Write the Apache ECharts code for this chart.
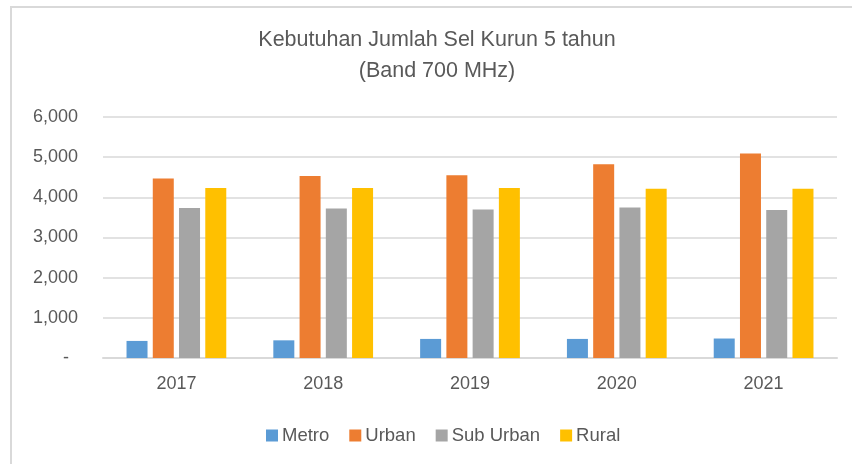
<!DOCTYPE html>
<html>
<head>
<meta charset="UTF-8">
<title>Kebutuhan Jumlah Sel</title>
<script src="https://cdn.jsdelivr.net/npm/echarts@6/dist/echarts.min.js"></script>
<style>
  html, body { margin: 0; padding: 0; background: #fff; overflow: hidden; }
  #chart { position: absolute; left: 0; top: 0; width: 852px; height: 464px; }
  .frame { position: absolute; left: 10px; top: 6px; width: 900px; height: 500px;
           border-left: 2px solid #d9d9d9; border-top: 2px solid #d9d9d9; }
</style>
</head>
<body>
<div class="frame"></div>
<div id="chart"></div>
<script>
// data
const years = ['2017', '2018', '2019', '2020', '2021'];
const metro = [425, 440, 475, 475, 485];
const urban = [4470, 4530, 4550, 4825, 5090];
const subUrban = [3735, 3725, 3700, 3750, 3685];
const rural = [4230, 4230, 4230, 4215, 4215];

const colors = ['#5B9BD5', '#ED7D31', '#A5A5A5', '#FFC000'];
const textColor = '#595959';
const font = 'Liberation Sans, Arial, sans-serif';

const chart = echarts.init(document.getElementById('chart'));

const mkBar = (name, data) => ({
    name: name,
    type: 'bar',
    data: data,
    barWidth: 21,
    barGap: '25%'
});

chart.setOption({
    color: colors,
    animation: false,
    textStyle: { fontFamily: font },
    title: {
        text: 'Kebutuhan Jumlah Sel Kurun 5 tahun\n(Band 700 MHz)',
        left: 437,
        top: 25,
        padding: 0,
        textAlign: 'center',
        textStyle: {
            color: textColor,
            fontSize: 21.5,
            fontWeight: 'normal',
            lineHeight: 31,
            fontFamily: font
        }
    },
    legend: {
        left: 261,
        top: 421,
        itemWidth: 12,
        itemHeight: 12,
        itemGap: 20,
        icon: 'rect',
        textStyle: { color: textColor, fontSize: 18.5, fontFamily: font, padding: [0, 0, 0, -1] }
    },
    grid: { left: 103, right: 15, top: 117, bottom: 106 },
    xAxis: {
        type: 'category',
        data: years,
        axisLine: { lineStyle: { color: '#d9d9d9', width: 2 } },
        axisTick: { show: false },
        axisLabel: { color: textColor, fontSize: 18, margin: 17, fontFamily: font }
    },
    yAxis: {
        type: 'value',
        min: 0,
        max: 6000,
        interval: 1000,
        axisLine: { show: false },
        axisTick: { show: false },
        splitLine: { lineStyle: { color: '#d9d9d9', width: 1.5 } },
        axisLabel: {
            color: textColor,
            fontSize: 18,
            margin: 25,
            fontFamily: font,
            formatter: v => v === 0 ? '{z|-}' : v.toLocaleString('en-US'),
            rich: { z: { color: textColor, fontSize: 18, padding: [0, 9, 0, 0] } }
        }
    },
    series: [
        mkBar('Metro', metro),
        mkBar('Urban', urban),
        mkBar('Sub Urban', subUrban),
        mkBar('Rural', rural)
    ]
});
</script>
</body>
</html>
